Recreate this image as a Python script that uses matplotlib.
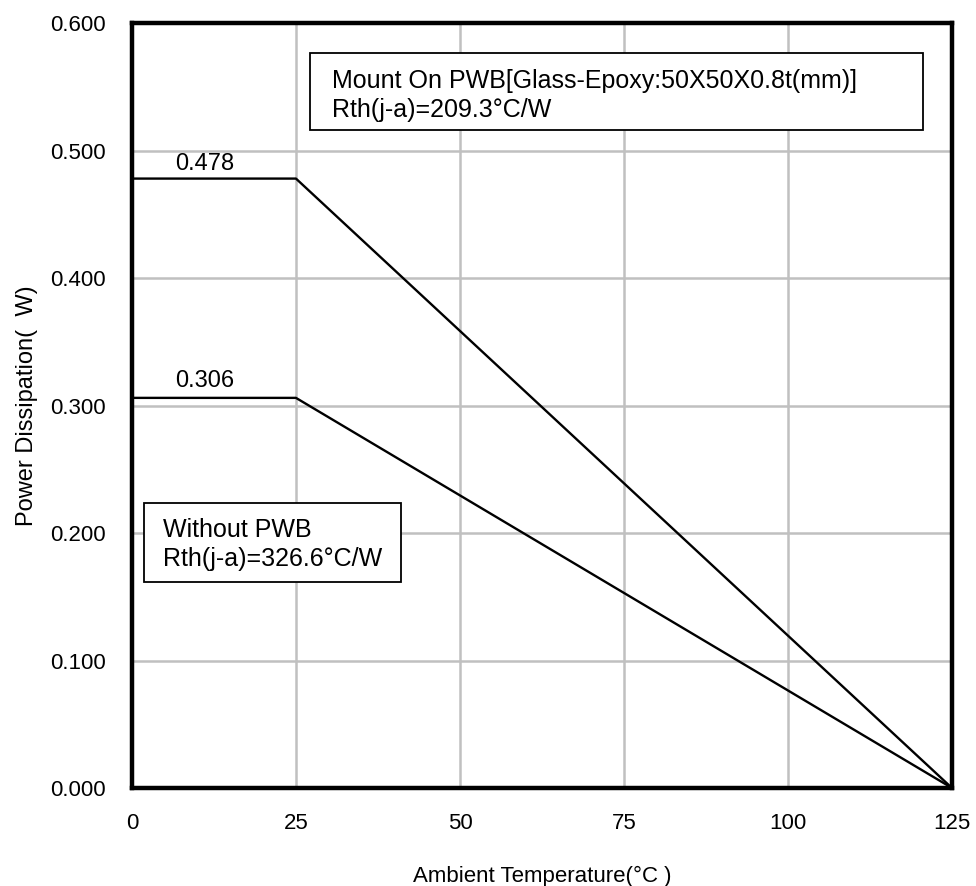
import matplotlib
matplotlib.use("Agg")
import matplotlib.pyplot as plt
from matplotlib.patches import Rectangle

plt.rcParams['font.family'] = ['Liberation Sans', 'DejaVu Sans']

# data
temp = [0, 25, 125]
pd_pwb = [0.478, 0.478, 0.0]
pd_nopwb = [0.306, 0.306, 0.0]
x_ticks = [0, 25, 50, 75, 100, 125]
y_ticks = [0.0, 0.1, 0.2, 0.3, 0.4, 0.5, 0.6]
y_ticklabels = ["%.3f" % v for v in y_ticks]
pwb_lines = ["Mount On PWB[Glass-Epoxy:50X50X0.8t(mm)]", "Rth(j-a)=209.3\u00b0C/W"]
nopwb_lines = ["Without PWB", "Rth(j-a)=326.6\u00b0C/W"]

fig = plt.figure(figsize=(9.76, 8.86), dpi=100)
ax = fig.add_axes([0.1352, 0.1106, 0.8402, 0.8634])

ax.plot(temp, pd_pwb, color="black", lw=1.7, zorder=3)
ax.plot(temp, pd_nopwb, color="black", lw=1.7, zorder=3)

ax.set_xlim(0, 125)
ax.set_ylim(0, 0.6)
ax.set_xticks(x_ticks)
ax.set_yticks(y_ticks)
ax.set_yticklabels(y_ticklabels)
ax.grid(True, color="#c0c0c0", lw=1.8)
ax.set_axisbelow(True)
ax.tick_params(length=0, labelsize=16)
ax.tick_params(axis="y", pad=19)
ax.tick_params(axis="x", pad=18)
for s in ax.spines.values():
    s.set_linewidth(3.2)

ax.set_xlabel("Ambient Temperature(\u00b0C )", fontsize=16)
ax.xaxis.set_label_coords(0.5, -0.102)
ax.set_ylabel("Power Dissipation(  W)", fontsize=17)
ax.yaxis.set_label_coords(-0.114, 0.5)

# value labels above the flat parts
ax.text(11.1, 0.4847, "%.3f" % pd_pwb[0], fontsize=17, ha="center", va="baseline")
ax.text(11.1, 0.3145, "%.3f" % pd_nopwb[0], fontsize=17, ha="center", va="baseline")

# annotation boxes
ax.add_patch(Rectangle((27.1, 0.516), 93.5, 0.0605, facecolor="white",
                       edgecolor="black", lw=1.3, zorder=4))
for txt, yb in zip(pwb_lines, [0.549, 0.5263]):
    ax.text(30.5, yb, txt, fontsize=18, ha="left", va="baseline", zorder=5)

ax.add_patch(Rectangle((1.83, 0.1616), 39.2, 0.0619, facecolor="white",
                       edgecolor="black", lw=1.3, zorder=4))
for txt, yb in zip(nopwb_lines, [0.1969, 0.1741]):
    ax.text(4.73, yb, txt, fontsize=18, ha="left", va="baseline", zorder=5)

fig.savefig("out.png", dpi=100)
